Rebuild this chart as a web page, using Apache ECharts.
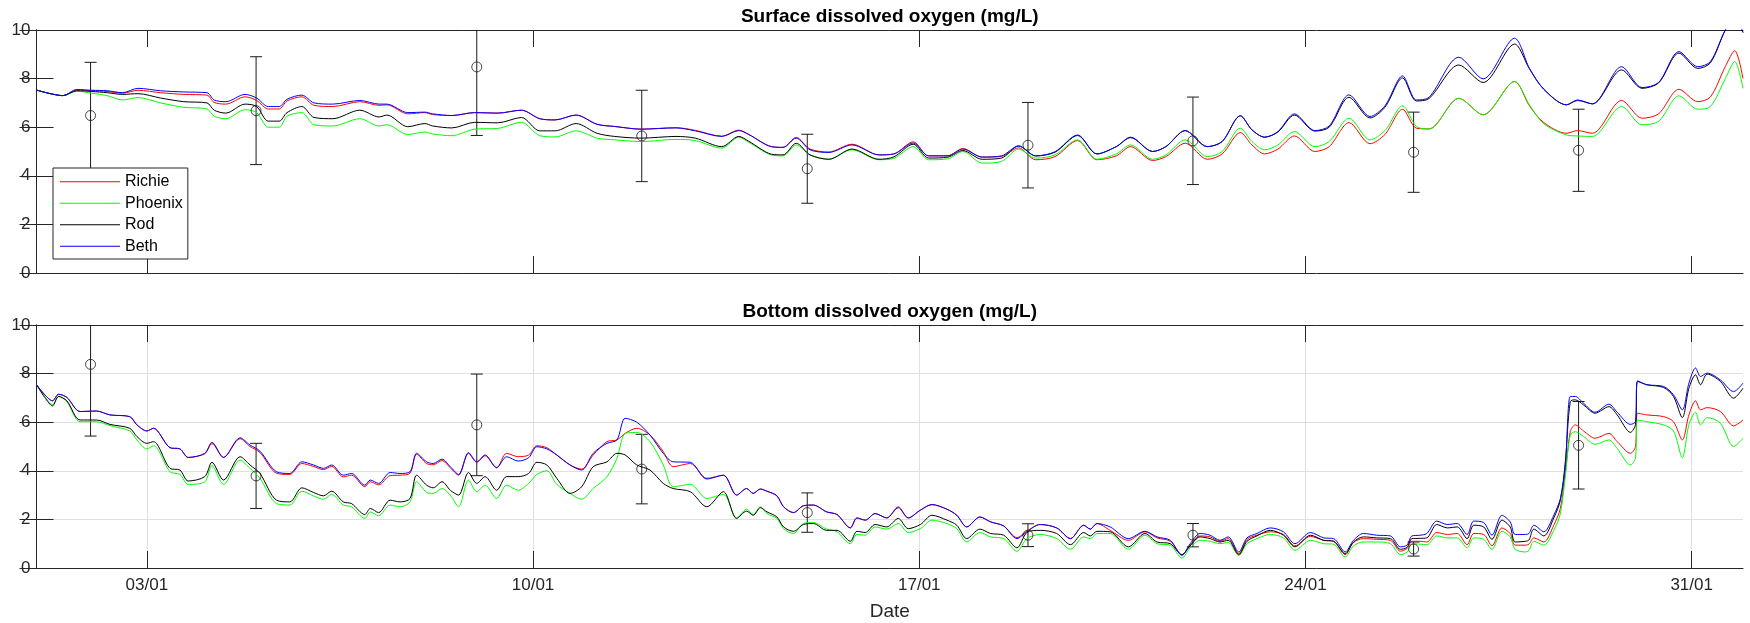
<!DOCTYPE html>
<html>
<head>
<meta charset="utf-8">
<title>Dissolved oxygen</title>
<script src="https://cdn.jsdelivr.net/npm/echarts@6.0.0/dist/echarts.min.js"></script>
<style>
  html, body { margin: 0; padding: 0; background: #fff; }
  #main { width: 1750px; height: 623px; }
</style>
</head>
<body>
<div id="main"></div>
<script>
// days since 01/01 00:00
const tickDays = [2, 9, 16, 23, 30];
const seriesNames = ['Richie', 'Phoenix', 'Rod', 'Beth'];

// surface model output
const surfDays = [
  0, 0.48, 0.73, 1.0, 1.28, 1.56, 1.84, 2.25, 2.67, 3.09,
  3.22, 3.43, 3.78, 3.99, 4.2, 4.4, 4.54, 4.81, 5.03, 5.37,
  5.86, 6.21, 6.35, 6.73, 7.04, 7.18, 7.53, 7.94, 8.36, 8.79,
  9.12, 9.4, 9.78, 10.16, 10.48, 10.96, 11.59, 11.94, 12.42, 12.73,
  12.91, 13.32, 13.53, 13.77, 14.02, 14.36, 14.78, 15.27, 15.54, 15.89,
  16.17, 16.52, 16.79, 17.14, 17.49, 17.8, 18.11, 18.46, 18.87, 19.22,
  19.57, 19.83, 20.23, 20.47, 20.82, 21.22, 21.49, 21.82, 22.03, 22.26,
  22.5, 22.8, 23.17, 23.43, 23.79, 24.17, 24.44, 24.76, 25.01, 25.24,
  25.78, 26.22, 26.79, 27.06, 27.32, 27.73, 27.93, 28.2, 28.73, 29.1,
  29.4, 29.77, 30.11, 30.34, 30.61, 30.78, 30.93
];
const surfRichie = [
  7.53, 7.3, 7.53, 7.5, 7.47, 7.4, 7.52, 7.42, 7.35, 7.32,
  7.02, 6.95, 7.25, 7.1, 6.75, 6.75, 7.08, 7.25, 6.9, 6.85,
  7.05, 6.9, 6.92, 6.55, 6.6, 6.52, 6.48, 6.6, 6.58, 6.7,
  6.35, 6.3, 6.5, 6.12, 6.03, 5.92, 5.98, 5.87, 5.63, 5.88,
  5.7, 5.2, 5.17, 5.58, 5.1, 4.98, 5.3, 4.86, 4.9, 5.4,
  4.82, 4.83, 5.12, 4.77, 4.8, 5.15, 4.66, 4.79, 5.45, 4.66,
  4.82, 5.2, 4.63, 4.79, 5.34, 4.68, 4.9, 5.78, 5.27, 4.9,
  5.1, 5.64, 5.0, 5.2, 6.19, 5.32, 5.7, 6.74, 5.96, 5.93,
  7.19, 6.51, 7.88, 6.88, 6.19, 5.75, 5.86, 5.75, 7.1, 6.37,
  6.55, 7.56, 7.05, 7.25, 8.5, 9.15, 8.0
];
const surfPhoenix = [
  7.53, 7.3, 7.48, 7.4, 7.3, 7.12, 7.22, 7.0, 6.82, 6.75,
  6.45, 6.35, 6.72, 6.6, 6.0, 6.0, 6.45, 6.6, 6.1, 6.05,
  6.35, 6.05, 6.1, 5.7, 5.8, 5.72, 5.65, 5.92, 5.95, 6.2,
  5.65, 5.6, 5.85, 5.55, 5.48, 5.41, 5.5, 5.45, 5.14, 5.59,
  5.38, 4.86, 4.82, 5.27, 4.86, 4.68, 5.07, 4.66, 4.72, 5.2,
  4.66, 4.7, 5.0, 4.52, 4.59, 5.1, 4.73, 4.86, 5.48, 4.68,
  4.9, 5.27, 4.68, 4.86, 5.48, 4.79, 5.0, 5.96, 5.41, 5.07,
  5.27, 5.82, 5.2, 5.41, 6.37, 5.48, 5.86, 6.88, 6.03, 5.93,
  7.19, 6.51, 7.88, 6.92, 6.14, 5.68, 5.64, 5.62, 6.85, 6.1,
  6.24, 7.29, 6.74, 6.85, 8.0, 8.7, 7.6
];
const surfRod = [
  7.53, 7.3, 7.5, 7.47, 7.42, 7.35, 7.38, 7.2, 7.05, 7.0,
  6.7, 6.58, 6.95, 6.85, 6.25, 6.25, 6.6, 6.85, 6.4, 6.35,
  6.7, 6.42, 6.5, 6.02, 6.15, 6.05, 5.97, 6.2, 6.18, 6.4,
  5.85, 5.85, 6.15, 5.75, 5.62, 5.55, 5.62, 5.55, 5.2, 5.62,
  5.42, 4.89, 4.86, 5.34, 4.86, 4.68, 5.1, 4.68, 4.78, 5.3,
  4.73, 4.77, 5.04, 4.68, 4.73, 5.23, 4.82, 4.97, 5.66, 4.9,
  5.2, 5.57, 5.0, 5.2, 5.86, 5.2, 5.41, 6.47, 5.89, 5.59,
  5.8, 6.5, 5.84, 6.0, 7.23, 6.38, 6.82, 8.03, 7.08, 7.18,
  8.56, 7.84, 9.42, 8.4, 7.56, 6.92, 7.1, 6.96, 8.36, 7.6,
  7.82, 9.05, 8.42, 8.65, 10.0, 10.5, 9.9
];
const surfBeth = [
  7.53, 7.3, 7.55, 7.52, 7.5, 7.42, 7.6, 7.5, 7.45, 7.42,
  7.12, 7.05, 7.35, 7.2, 6.85, 6.85, 7.15, 7.32, 7.0, 6.95,
  7.1, 6.95, 6.95, 6.6, 6.62, 6.55, 6.48, 6.6, 6.58, 6.7,
  6.35, 6.3, 6.5, 6.12, 6.03, 5.92, 5.97, 5.85, 5.62, 5.86,
  5.7, 5.2, 5.17, 5.55, 5.07, 4.96, 5.27, 4.86, 4.9, 5.35,
  4.82, 4.82, 5.1, 4.77, 4.82, 5.23, 4.82, 4.99, 5.68, 4.9,
  5.2, 5.59, 5.0, 5.2, 5.86, 5.2, 5.41, 6.47, 5.89, 5.59,
  5.82, 6.55, 5.86, 6.05, 7.33, 6.44, 6.88, 8.11, 7.12, 7.23,
  8.88, 7.99, 9.66, 8.42, 7.56, 6.92, 7.12, 6.96, 8.49, 7.63,
  7.84, 9.11, 8.49, 8.7, 10.0, 10.5, 9.9
];

// bottom model output
const botDays = [
  0, 0.15, 0.29, 0.4, 0.55, 0.79, 1.09, 1.33, 1.69, 1.82,
  2.0, 2.12, 2.42, 2.6, 2.75, 3.05, 3.18, 3.39, 3.69, 3.87,
  4.05, 4.35, 4.59, 4.81, 5.02, 5.2, 5.35, 5.56, 5.71, 5.95,
  6.05, 6.2, 6.41, 6.59, 6.77, 6.89, 7.07, 7.19, 7.35, 7.5,
  7.65, 7.83, 7.98, 8.13, 8.34, 8.52, 8.73, 8.92, 9.07, 9.25,
  9.43, 9.67, 9.88, 10.09, 10.34, 10.52, 10.67, 10.88, 11.12, 11.36,
  11.54, 11.85, 12.15, 12.45, 12.69, 12.87, 12.99, 13.12, 13.24, 13.42,
  13.54, 13.72, 13.9, 14.08, 14.32, 14.51, 14.75, 14.87, 15.02, 15.2,
  15.41, 15.62, 15.8, 16.02, 16.23, 16.5, 16.68, 16.86, 17.1, 17.29,
  17.53, 17.77, 17.95, 18.19, 18.49, 18.74, 18.98, 19.1, 19.22, 19.46,
  19.79, 20.09, 20.31, 20.55, 20.76, 20.91, 21.09, 21.27, 21.45, 21.6,
  21.79, 21.94, 22.12, 22.36, 22.6, 22.81, 23.09, 23.33, 23.51, 23.72,
  23.87, 24.05, 24.29, 24.54, 24.72, 24.84, 24.93, 25.08, 25.2, 25.38,
  25.57, 25.75, 25.93, 26.05, 26.23, 26.38, 26.56, 26.71, 26.8, 26.99,
  27.05, 27.14, 27.32, 27.5, 27.62, 27.71, 27.8, 27.89, 28.04, 28.25,
  28.5, 28.65, 28.89, 28.98, 29.02, 29.19, 29.49, 29.67, 29.83, 29.95,
  30.07, 30.16, 30.28, 30.52, 30.76, 30.93
];
const botRichie = [
  7.54, 7.13, 6.88, 7.15, 7.02, 6.44, 6.46, 6.30, 6.23, 5.89,
  5.64, 5.75, 4.95, 4.90, 4.55, 4.70, 5.12, 4.55, 5.32, 5.00,
  4.75, 3.90, 3.85, 4.30, 4.18, 4.05, 4.18, 3.75, 3.82, 3.35,
  3.55, 3.42, 3.80, 3.82, 3.90, 4.68, 4.30, 4.25, 4.42, 4.12,
  3.82, 4.72, 4.35, 4.62, 4.12, 4.72, 4.58, 4.65, 5.03, 4.95,
  4.65, 4.24, 4.07, 4.65, 5.20, 5.27, 5.54, 5.75, 5.47, 4.79,
  4.17, 4.30, 3.69, 3.82, 3.00, 3.27, 3.07, 3.25, 3.16, 2.97,
  2.52, 2.28, 2.56, 2.59, 2.31, 2.20, 1.65, 2.06, 1.97, 2.24,
  2.06, 2.52, 2.06, 2.38, 2.61, 2.42, 2.17, 1.69, 2.10, 1.90,
  1.73, 1.25, 1.52, 1.79, 1.65, 1.21, 1.76, 1.60, 1.83, 1.55,
  1.14, 1.49, 1.24, 1.10, 0.55, 0.94, 1.32, 1.28, 1.10, 1.21,
  0.59, 1.18, 1.35, 1.49, 1.38, 0.91, 1.30, 1.14, 1.10, 0.55,
  1.05, 1.21, 1.18, 1.14, 0.69, 0.80, 1.10, 1.10, 1.07, 1.46,
  1.38, 1.42, 0.96, 1.42, 1.38, 0.91, 1.65, 1.42, 0.94, 0.94,
  0.98, 1.24, 1.07, 1.76, 2.45, 3.90, 5.61, 5.89, 5.64, 5.34,
  5.54, 5.20, 4.72, 4.99, 6.37, 6.30, 6.23, 6.02, 5.27, 6.30,
  6.88, 6.51, 6.60, 6.44, 5.85, 6.09
];
const botPhoenix = [
  7.54, 7.06, 6.71, 7.06, 6.85, 6.02, 6.02, 5.86, 5.64, 5.27,
  4.90, 5.03, 3.96, 3.85, 3.44, 3.55, 4.21, 3.44, 4.44, 4.10,
  3.69, 2.65, 2.59, 3.16, 2.97, 2.83, 3.03, 2.59, 2.52, 2.04,
  2.31, 2.15, 2.59, 2.52, 2.72, 3.55, 3.11, 3.07, 3.27, 3.00,
  2.52, 3.62, 3.14, 3.41, 2.86, 3.41, 3.20, 3.48, 3.85, 4.00,
  3.44, 3.07, 2.83, 3.27, 3.76, 4.51, 5.54, 5.58, 5.20, 4.24,
  3.34, 3.44, 2.86, 3.03, 2.06, 2.42, 2.20, 2.52, 2.24, 2.04,
  1.62, 1.42, 1.83, 1.87, 1.60, 1.49, 1.00, 1.38, 1.35, 1.69,
  1.60, 1.83, 1.46, 1.62, 1.97, 1.83, 1.62, 1.07, 1.46, 1.28,
  1.21, 0.69, 1.21, 1.38, 1.21, 0.77, 1.28, 1.21, 1.42, 1.42,
  0.77, 1.35, 1.00, 0.94, 0.41, 0.83, 1.14, 1.10, 1.00, 1.05,
  0.52, 1.00, 1.21, 1.38, 1.24, 0.73, 1.14, 1.00, 0.98, 0.45,
  0.91, 1.07, 1.07, 1.00, 0.55, 0.65, 1.00, 0.98, 0.96, 1.32,
  1.24, 1.24, 0.83, 1.24, 1.18, 0.77, 1.51, 1.28, 0.77, 0.66,
  0.72, 1.10, 0.94, 1.55, 2.24, 3.80, 5.47, 5.61, 5.41, 5.09,
  5.27, 4.92, 4.24, 4.51, 6.09, 6.02, 5.89, 5.64, 4.54, 5.90,
  6.41, 5.89, 6.19, 5.96, 5.00, 5.34
];
const botRod = [
  7.54, 7.02, 6.67, 7.06, 6.88, 6.09, 6.09, 5.91, 5.75, 5.41,
  5.13, 5.20, 4.10, 4.03, 3.58, 3.76, 4.35, 3.62, 4.58, 4.24,
  3.89, 2.79, 2.72, 3.30, 3.11, 2.97, 3.16, 2.72, 2.65, 2.20,
  2.45, 2.28, 2.79, 2.72, 2.86, 3.82, 3.41, 3.30, 3.55, 3.20,
  3.00, 3.93, 3.48, 3.76, 3.20, 3.76, 3.76, 3.89, 4.35, 4.24,
  3.69, 3.07, 3.34, 4.17, 4.37, 4.72, 4.65, 4.24, 4.03, 3.48,
  3.27, 3.14, 2.52, 3.14, 2.04, 2.34, 2.17, 2.48, 2.31, 2.10,
  1.69, 1.51, 1.79, 1.83, 1.55, 1.55, 1.10, 1.51, 1.46, 1.79,
  1.69, 2.04, 1.62, 1.79, 2.17, 1.97, 1.76, 1.21, 1.60, 1.42,
  1.35, 0.83, 1.46, 1.55, 1.42, 0.96, 1.46, 1.32, 1.51, 1.49,
  0.87, 1.42, 1.07, 1.00, 0.55, 0.91, 1.28, 1.21, 1.07, 1.14,
  0.55, 1.10, 1.32, 1.55, 1.35, 0.87, 1.35, 1.14, 1.10, 0.59,
  1.07, 1.28, 1.24, 1.21, 0.77, 0.85, 1.21, 1.22, 1.24, 1.79,
  1.65, 1.69, 1.21, 1.76, 1.69, 1.18, 1.97, 1.69, 1.07, 1.10,
  1.15, 1.60, 1.32, 2.06, 2.79, 4.37, 6.85, 6.92, 6.71, 6.37,
  6.64, 6.30, 5.58, 5.89, 7.68, 7.54, 7.43, 7.06, 6.19, 7.40,
  7.95, 7.54, 7.98, 7.68, 6.99, 7.40
];
const botBeth = [
  7.54, 7.13, 6.88, 7.15, 7.02, 6.44, 6.46, 6.30, 6.23, 5.89,
  5.64, 5.75, 4.95, 4.90, 4.55, 4.72, 5.17, 4.55, 5.36, 5.06,
  4.81, 3.96, 3.89, 4.37, 4.24, 4.10, 4.24, 3.82, 3.89, 3.41,
  3.62, 3.48, 3.93, 3.89, 3.96, 4.72, 4.37, 4.30, 4.48, 4.17,
  3.85, 4.75, 4.37, 4.65, 4.13, 4.58, 4.40, 4.54, 4.99, 4.90,
  4.65, 4.24, 4.03, 4.72, 5.13, 5.27, 6.16, 6.00, 5.47, 4.72,
  4.37, 4.35, 3.66, 3.82, 3.00, 3.27, 3.07, 3.25, 3.16, 2.97,
  2.52, 2.28, 2.56, 2.59, 2.31, 2.20, 1.65, 2.06, 1.97, 2.24,
  2.06, 2.48, 2.06, 2.38, 2.61, 2.42, 2.17, 1.69, 2.10, 1.90,
  1.73, 1.21, 1.49, 1.79, 1.65, 1.21, 1.76, 1.60, 1.83, 1.69,
  1.21, 1.51, 1.28, 1.14, 0.52, 1.00, 1.42, 1.35, 1.14, 1.28,
  0.66, 1.24, 1.42, 1.65, 1.49, 1.00, 1.46, 1.24, 1.21, 0.66,
  1.14, 1.42, 1.35, 1.32, 0.87, 0.94, 1.32, 1.35, 1.42, 1.93,
  1.79, 1.83, 1.38, 1.93, 1.87, 1.35, 2.17, 1.90, 1.38, 1.38,
  1.42, 1.76, 1.49, 2.17, 2.86, 4.24, 7.06, 7.06, 6.78, 6.41,
  6.74, 6.41, 5.91, 6.02, 7.70, 7.54, 7.47, 7.13, 6.51, 7.61,
  8.23, 7.88, 8.02, 7.74, 7.26, 7.61
];

// field observations: mean and error
const obsDays = [0.98, 3.98, 7.98, 10.97, 13.97, 17.97, 20.96, 24.96, 27.95];
const surfObsMean = [6.48, 6.68, 8.48, 5.64, 4.29, 5.26, 5.44, 4.97, 5.05];
const surfObsErr = [2.19, 2.22, 2.82, 1.88, 1.42, 1.76, 1.8, 1.65, 1.69];
const botObsMean = [8.38, 3.79, 5.89, 4.07, 2.28, 1.35, 1.35, 0.78, 5.05];
const botObsErr = [2.95, 1.34, 2.09, 1.43, 0.81, 0.47, 0.48, 0.29, 1.8];

const FONT = '"Liberation Sans", Arial, Helvetica, sans-serif';
const AXIS_COLOR = '#262626';
const LINE_COLORS = ['#ff0000', '#00ff00', '#000000', '#0000ff'];
const X_MAX = 30.93;
const Y_MAX = 10;

const dayLabel = v => {
  const d = Math.round(v) + 1;
  return (d < 10 ? '0' + d : '' + d) + '/01';
};

function xAxes(gridIndex, title, bottomName, grid) {
  const common = {
    type: 'value',
    gridIndex: gridIndex,
    min: 0,
    max: X_MAX,
    axisLine: { show: true, onZero: false, lineStyle: { color: AXIS_COLOR, width: 1 } },
    axisTick: { show: true, inside: true, length: 17, customValues: tickDays, lineStyle: { color: AXIS_COLOR } }
  };
  return [
    Object.assign({}, common, {
      position: 'bottom',
      axisLabel: {
        show: !!bottomName, customValues: tickDays, formatter: dayLabel,
        color: AXIS_COLOR, fontSize: 17, fontFamily: FONT, margin: 9
      },
      splitLine: { show: grid, lineStyle: { color: '#dfdfdf', width: 1 } },
      name: bottomName || '',
      nameLocation: 'middle',
      nameGap: 34,
      nameTextStyle: { color: AXIS_COLOR, fontSize: 19, fontFamily: FONT }
    }),
    Object.assign({}, common, {
      position: 'top',
      axisLabel: { show: false },
      splitLine: { show: false },
      name: title,
      nameLocation: 'middle',
      nameGap: 4,
      nameTextStyle: { color: '#000', fontSize: 19, fontWeight: 'bold', fontFamily: FONT }
    })
  ];
}

function yAxes(gridIndex, grid) {
  const common = {
    type: 'value',
    gridIndex: gridIndex,
    min: 0,
    max: Y_MAX,
    interval: 2,
    axisLine: { show: true, lineStyle: { color: AXIS_COLOR, width: 1 } },
    axisTick: { show: true, inside: true, length: 17, lineStyle: { color: AXIS_COLOR } }
  };
  return [
    Object.assign({}, common, {
      position: 'left',
      axisLabel: { color: AXIS_COLOR, fontSize: 17, fontFamily: FONT, margin: 6 },
      splitLine: { show: grid, lineStyle: { color: '#dfdfdf', width: 1 } }
    }),
    Object.assign({}, common, {
      position: 'right',
      axisLabel: { show: false },
      splitLine: { show: false }
    })
  ];
}

function renderErrorBar(params, api) {
  const x = api.value(0);
  const lo = api.value(1);
  const hi = api.value(2);
  const top = api.coord([x, Math.min(hi, Y_MAX)]);
  const bottom = api.coord([x, Math.max(lo, 0)]);
  const half = 6;
  const style = { stroke: '#1a1a1a', lineWidth: 1 };
  const children = [
    { type: 'line', shape: { x1: top[0], y1: top[1], x2: bottom[0], y2: bottom[1] }, style: style }
  ];
  if (hi <= Y_MAX) {
    children.push({ type: 'line', shape: { x1: top[0] - half, y1: top[1], x2: top[0] + half, y2: top[1] }, style: style });
  }
  if (lo >= 0) {
    children.push({ type: 'line', shape: { x1: bottom[0] - half, y1: bottom[1], x2: bottom[0] + half, y2: bottom[1] }, style: style });
  }
  return { type: 'group', children: children };
}

function panelSeries(axisIndex, days, lines, obsMean, obsErr) {
  const out = lines.map((vals, k) => ({
    name: seriesNames[k],
    type: 'line',
    xAxisIndex: axisIndex,
    yAxisIndex: axisIndex,
    data: days.map((d, i) => [d, vals[i]]),
    symbol: 'none',
    showSymbol: false,
    smooth: 0.3,
    clip: true,
    lineStyle: { color: LINE_COLORS[k], width: 1 },
    itemStyle: { color: LINE_COLORS[k] },
    emphasis: { disabled: true }
  }));
  out.push({
    type: 'custom',
    xAxisIndex: axisIndex,
    yAxisIndex: axisIndex,
    renderItem: renderErrorBar,
    encode: { x: 0, y: [1, 2] },
    data: obsDays.map((d, i) => [d, obsMean[i] - obsErr[i], obsMean[i] + obsErr[i]]),
    z: 3
  });
  out.push({
    type: 'scatter',
    xAxisIndex: axisIndex,
    yAxisIndex: axisIndex,
    data: obsDays.map((d, i) => [d, obsMean[i]]),
    symbol: 'circle',
    symbolSize: 10,
    itemStyle: { color: 'rgba(0,0,0,0)', borderColor: '#1a1a1a', borderWidth: 1 },
    emphasis: { disabled: true },
    z: 4
  });
  return out;
}

const chart = echarts.init(document.getElementById('main'), null, { renderer: 'canvas' });

const option = {
  backgroundColor: '#fff',
  animation: false,
  grid: [
    { left: 36.5, right: 7, top: 30, height: 243 },
    { left: 36.5, right: 7, top: 325, height: 243 }
  ],
  legend: {
    data: seriesNames,
    orient: 'vertical',
    left: 53,
    top: 168,
    icon: 'rect',
    itemWidth: 60,
    itemHeight: 1,
    itemGap: 4,
    padding: [5, 5, 4, 7],
    backgroundColor: '#fff',
    borderColor: AXIS_COLOR,
    borderWidth: 1,
    borderRadius: 0,
    selectedMode: false,
    textStyle: { fontSize: 16, lineHeight: 17.5, color: '#000', fontFamily: FONT }
  },
  xAxis: [].concat(
    xAxes(0, 'Surface dissolved oxygen (mg/L)', null, false),
    xAxes(1, 'Bottom dissolved oxygen (mg/L)', 'Date', true)
  ),
  yAxis: [].concat(yAxes(0, false), yAxes(1, true)),
  series: [].concat(
    panelSeries(0, surfDays, [surfRichie, surfPhoenix, surfRod, surfBeth], surfObsMean, surfObsErr),
    panelSeries(2, botDays, [botRichie, botPhoenix, botRod, botBeth], botObsMean, botObsErr)
  )
};

chart.setOption(option);
window.addEventListener('resize', function () {
  chart.resize();
});
</script>
</body>
</html>
